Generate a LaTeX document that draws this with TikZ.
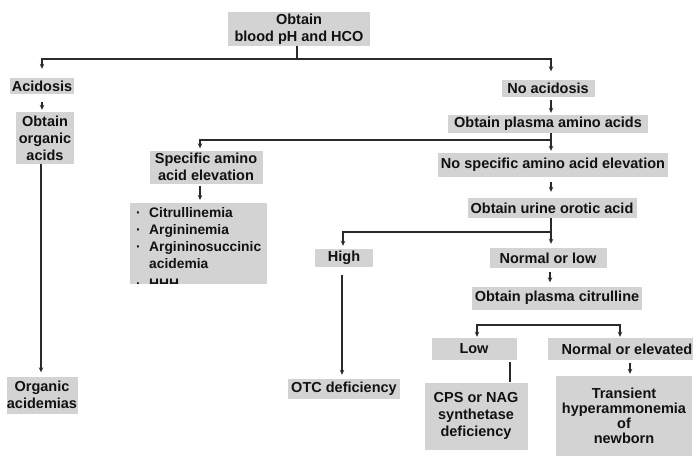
\documentclass[tikz,border=0pt]{standalone}
\usepackage{fontspec}
\setmainfont{Liberation Sans}
\usetikzlibrary{arrows.meta}
\definecolor{boxgray}{HTML}{D3D3D3}
\definecolor{ink}{HTML}{111111}
\definecolor{wire}{HTML}{2A2A2A}
\begin{document}
\begin{tikzpicture}[x=1pt,y=-1pt,
  every node/.style={font=\fontsize{14.5}{17}\selectfont\bfseries, text=ink},
  stage/.style={fill=boxgray, inner sep=0pt, align=center},
  link/.style={draw=wire, line width=1.2pt, -{Stealth[length=5pt,width=4.5pt]}},
  plain/.style={draw=wire, line width=1.2pt},
]
\useasboundingbox[fill=white] (0,0) rectangle (693,456);
\clip (0,0) rectangle (693,456);

% decision boxes
\node[stage, minimum width=142pt, minimum height=34pt] (top) at (299,29) {Obtain\\blood pH and HCO};
\node[stage, minimum width=64pt, minimum height=16pt] (acid) at (42,86) {Acidosis};
\node[stage, minimum width=58pt, minimum height=52pt] (orgacid) at (45,138) {Obtain\\organic\\acids};
\node[stage, minimum width=71pt, minimum height=37pt] (orgacidemia) at (42,395) {Organic\\acidemias};
\node[stage, minimum width=93pt, minimum height=17pt] (noacid) at (548,88) {No acidosis};
\node[stage, minimum width=200pt, minimum height=18pt] (plasmaaa) at (548,124) {Obtain plasma amino acids};
\node[stage, minimum width=113pt, minimum height=33pt] (specific) at (206,167) {Specific amino\\acid elevation};
\node[stage, minimum width=230pt, minimum height=24pt] (nospecific) at (553,165) {No specific amino acid elevation};
\node[stage, minimum width=169pt, minimum height=20pt] (orotic) at (552,208) {Obtain urine orotic acid};
\node[stage, minimum width=58pt, minimum height=18pt] (high) at (344,258) {High};
\node[stage, minimum width=112pt, minimum height=20pt] (otc) at (344,389) {OTC deficiency};
\node[stage, minimum width=117pt, minimum height=20pt] (normlow) at (548,258) {Normal or low};
\node[stage, minimum width=170pt, minimum height=23pt] (citrulline) at (557,298) {Obtain plasma citrulline};
\node[stage, minimum width=85pt, minimum height=22pt] (low) at (474,349) {Low};
\node[stage, minimum width=158pt, minimum height=22pt] (normelev) at (627,349) {Normal or elevated};
\node[stage, minimum width=103pt, minimum height=67pt] (cps) at (476,416) {CPS or NAG\\synthetase\\deficiency};
\node[stage, minimum width=136pt, minimum height=80pt,
      font=\fontsize{14.5}{15}\selectfont\bfseries] (transient) at (624,416)
      {Transient\\hyperammonemia\\of\\newborn};

% list of specific disorders, cut off at the bottom
\begin{scope}
  \clip (100,190) rectangle (300,283);
  \node[stage, anchor=north west, align=left, inner xsep=5pt, inner ysep=4pt,
        minimum width=137pt, minimum height=75pt,
        font=\fontsize{13.8}{17}\selectfont\bfseries] (list) at (130,203)
    {\makebox[13pt][l]{·}Citrullinemia\\
     \makebox[13pt][l]{·}Argininemia\\
     \makebox[13pt][l]{·}Argininosuccinic\\
     \makebox[13pt][l]{}acidemia\\[3.5pt]
     \makebox[13pt][l]{·}HHH};
\end{scope}

% connectors
\coordinate (j1) at (297,59);
\draw[plain] (j1 |- top.south) -- (j1);
\draw[link, shorten >=9pt] (j1) -| (acid.north);
\draw[link, shorten >=8pt] (j1) -| ([xshift=3pt]noacid.north);
\draw[link, shorten <=8pt, shorten >=2pt] (acid.south) -- (acid.south |- orgacid.north);
\draw[link, shorten <=3pt, shorten >=2pt] ([xshift=3pt]noacid.south) -- ([xshift=3pt]noacid.south |- plasmaaa.north);
\draw[link, shorten >=4pt] ([xshift=-4pt]orgacid.south) -- ([xshift=-4pt]orgacid.south |- orgacidemia.north);

\coordinate (j2) at (551,140);
\draw[plain] (j2 |- plasmaaa.south) -- (j2);
\draw[link, shorten >=2pt] (j2) -| ([xshift=-6pt]specific.north);
\draw[link, shorten >=2pt] (j2) -- (j2 |- nospecific.north);
\draw[link, shorten <=2pt, shorten >=3pt] ([xshift=-6pt]specific.south) -- ([xshift=-6pt]specific.south |- list.north);
\draw[link, shorten <=5pt, shorten >=6pt] (j2 |- nospecific.south) -- (j2 |- orotic.north);

\coordinate (j3) at (551,232);
\draw[plain] (j3 |- orotic.south) -- (j3);
\draw[link, shorten >=3pt] (j3) -| ([xshift=-1pt]high.north);
\draw[link, shorten >=4pt] (j3) -- (j3 |- normlow.north);
\draw[link, shorten <=8pt, shorten >=4pt] ([xshift=-2pt]high.south) -- ([xshift=-2pt]high.south |- otc.north);
\draw[link, shorten <=4pt, shorten >=4pt] ([xshift=2pt]normlow.south) -- ([xshift=2pt]normlow.south |- citrulline.north);

\coordinate (j4) at (550,325);
\draw[link, shorten >=1pt] (j4) -| ([xshift=3pt]low.north);
\draw[link, shorten >=1pt] (j4) -| ([xshift=-7pt]normelev.north);
\draw[plain, shorten <=2pt] ([xshift=36pt]low.south) -- ([xshift=36pt]low.south |- cps.north);
\draw[link, shorten <=3pt, shorten >=2pt] ([xshift=3pt]normelev.south) -- ([xshift=3pt]normelev.south |- transient.north);
\end{tikzpicture}
\end{document}
